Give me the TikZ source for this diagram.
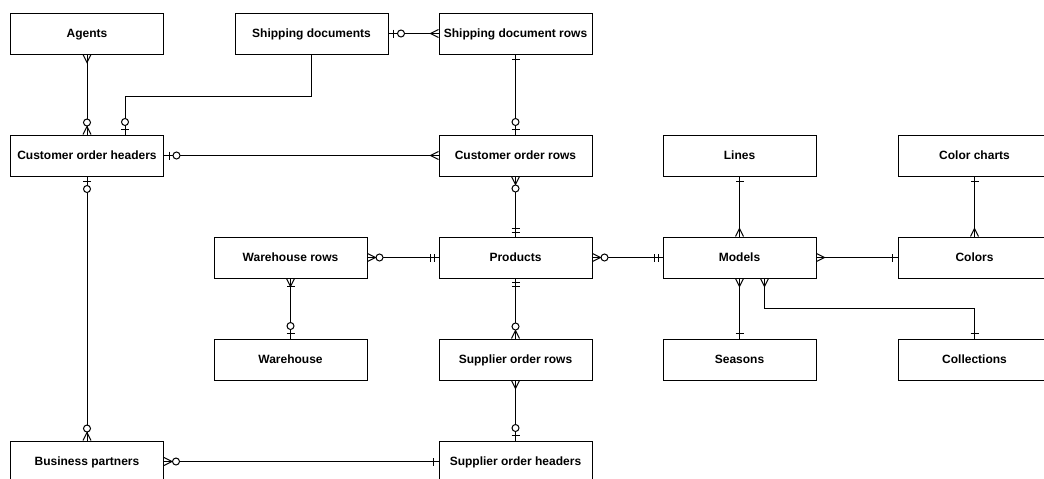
\documentclass[tikz,border=0pt]{standalone}
\usepackage{fontspec}
\setmainfont{Liberation Sans}
\usetikzlibrary{calc}

% ER end markers, drawn in a local frame whose +x axis points away from the box
\newcommand\ermany[2]{\begin{scope}[shift={(#1)},rotate=#2]
  \draw (0,4) -- (8,0) -- (0,-4);\end{scope}}
\newcommand\erzeromany[2]{\begin{scope}[shift={(#1)},rotate=#2]
  \draw (0,4) -- (8,0) -- (0,-4);
  \draw[fill=white] (12,0) circle (3.5);\end{scope}}
\newcommand\erzeroone[2]{\begin{scope}[shift={(#1)},rotate=#2]
  \draw (5,4) -- (5,-4);
  \draw[fill=white] (12.5,0) circle (3.5);\end{scope}}
\newcommand\erone[2]{\begin{scope}[shift={(#1)},rotate=#2]
  \draw (5,4) -- (5,-4);\end{scope}}
\newcommand\ermandone[2]{\begin{scope}[shift={(#1)},rotate=#2]
  \draw (4,4) -- (4,-4) (8,4) -- (8,-4);\end{scope}}
\newcommand\eronemany[2]{\begin{scope}[shift={(#1)},rotate=#2]
  \draw (0,4) -- (8,0) -- (0,-4);
  \draw (8,4) -- (8,-4);\end{scope}}

\begin{document}
\begin{tikzpicture}[x=1pt,y=1pt,line width=1pt,
  entity/.style={draw,fill=white,minimum width=153,minimum height=41,inner sep=0pt,
    text height=8.6pt,text depth=0pt,
    font=\fontsize{12}{14}\selectfont\bfseries}]
\useasboundingbox (0,0) rectangle (1044,-479);
\clip (0,0) rectangle (1044,-479);

% entities
\node[entity] (agents)      at (87,-33.5)    {Agents};
\node[entity] (shipdoc)     at (311.5,-33.5) {Shipping documents};
\node[entity] (shiprows)    at (515.5,-33.5) {Shipping document rows};
\node[entity] (coh)         at (87,-155.5)   {Customer order headers};
\node[entity] (cor)         at (515.5,-155.5){Customer order rows};
\node[entity] (lines)       at (739.5,-155.5){Lines};
\node[entity] (colorcharts) at (974.5,-155.5){Color charts};
\node[entity] (whrows)      at (290.5,-257.5){Warehouse rows};
\node[entity] (products)    at (515.5,-257.5){Products};
\node[entity] (models)      at (739.5,-257.5){Models};
\node[entity] (colors)      at (974.5,-257.5){Colors};
\node[entity] (warehouse)   at (290.5,-359.5){Warehouse};
\node[entity] (sor)         at (515.5,-359.5){Supplier order rows};
\node[entity] (seasons)     at (739.5,-359.5){Seasons};
\node[entity] (collections) at (974.5,-359.5){Collections};
\node[entity] (bp)          at (87,-461.5)   {Business partners};
\node[entity] (soh)         at (515.5,-461.5){Supplier order headers};

% relationships
\draw (agents.south) -- (coh.north);
\draw (shipdoc.south) -- ++(0,-42) -| ([xshift=38]coh.north);
\draw (shipdoc.east) -- (shiprows.west);
\draw (shiprows.south) -- (cor.north);
\draw (coh.east) -- (cor.west);
\draw (coh.south) -- (bp.north);
\draw (cor.south) -- (products.north);
\draw (whrows.east) -- (products.west);
\draw (products.east) -- (models.west);
\draw (whrows.south) -- (warehouse.north);
\draw (products.south) -- (sor.north);
\draw (sor.south) -- (soh.north);
\draw (bp.east) -- (soh.west);
\draw (lines.south) -- (models.north);
\draw (models.east) -- (colors.west);
\draw (colorcharts.south) -- (colors.north);
\draw (models.south) -- (seasons.north);
\draw ([xshift=25]models.south) -- ++(0,-30) -| (collections.north);

% cardinality markers
\ermany{agents.south}{-90}
\erzeromany{coh.north}{90}
\erzeroone{$(coh.north)+(38,0)$}{90}
\erzeroone{shipdoc.east}{0}
\ermany{shiprows.west}{180}
\erone{shiprows.south}{-90}
\erzeroone{cor.north}{90}
\erzeroone{coh.east}{0}
\ermany{cor.west}{180}
\erzeroone{coh.south}{-90}
\erzeromany{bp.north}{90}
\erzeromany{cor.south}{-90}
\ermandone{products.north}{90}
\erzeromany{whrows.east}{0}
\ermandone{products.west}{180}
\erzeromany{products.east}{0}
\ermandone{models.west}{180}
\eronemany{whrows.south}{-90}
\erzeroone{warehouse.north}{90}
\ermandone{products.south}{-90}
\erzeromany{sor.north}{90}
\ermany{sor.south}{-90}
\erzeroone{soh.north}{90}
\erzeromany{bp.east}{0}
\erone{soh.west}{180}
\erone{lines.south}{-90}
\ermany{models.north}{90}
\ermany{models.east}{0}
\erone{colors.west}{180}
\erone{colorcharts.south}{-90}
\ermany{colors.north}{90}
\ermany{models.south}{-90}
\erone{seasons.north}{90}
\ermany{$(models.south)+(25,0)$}{-90}
\erone{collections.north}{90}
\end{tikzpicture}
\end{document}
